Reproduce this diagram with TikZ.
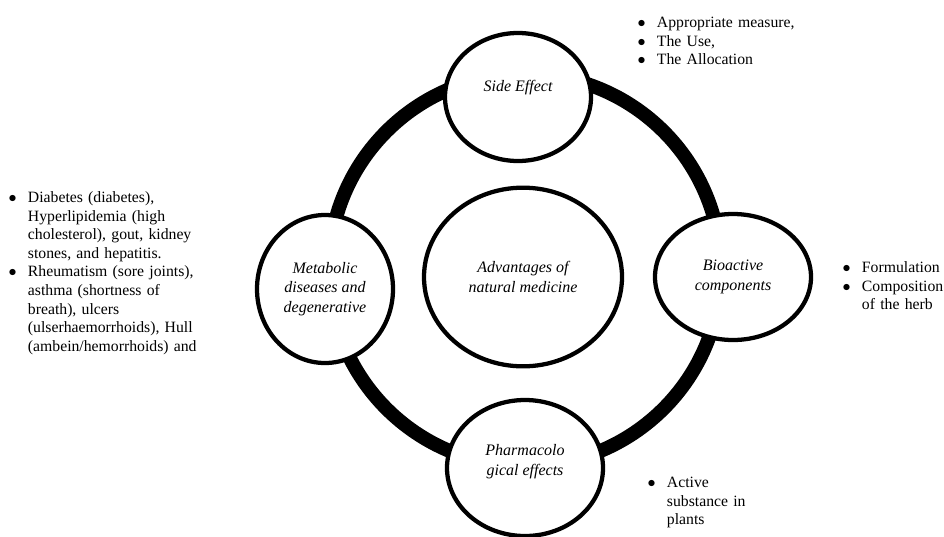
\documentclass[tikz,border=0pt]{standalone}
\usepackage{fontspec}
\setmainfont{Liberation Serif}
\usepackage{enumitem}
\usetikzlibrary{shapes.geometric,positioning}
\setlist[itemize]{label=$\bullet$,leftmargin=14pt,labelsep=8.5pt,nosep}

\begin{document}
\begin{tikzpicture}[x=0.75pt,y=-0.75pt,
    bubble/.style={ellipse, draw, line width=3.2pt, fill=white, inner sep=0pt,
                   align=center, font=\fontsize{12}{14.6}\selectfont\itshape},
    ring/.style={line width=10.5pt},
    notes/.style={anchor=north west, inner sep=0pt, text width=#1,
                  font=\fontsize{11.8}{13.9}\selectfont}]
    \useasboundingbox (0,0) rectangle (944,536);
    % the ring behind the five bubbles
    \coordinate (hub) at (525,270);
    \draw[ring] (hub) circle [radius=196];
    % bubbles
    \node[bubble, minimum width=109.5pt, minimum height=96pt, text depth=16pt] (side) at (518,97) {Side Effect};
    \node[bubble, minimum width=148.5pt, minimum height=134pt] (centre) at (523,277) {Advantages of\\natural medicine};
    \node[bubble, minimum width=102pt, minimum height=111pt] (metab) at (325,289) {Metabolic\\diseases and\\degenerative};
    \node[bubble, minimum width=117pt, minimum height=94.5pt] (bioact) at (733,277) {Bioactive\\components};
    \node[bubble, minimum width=117pt, minimum height=102pt, text depth=12pt] (pharma) at (525,468) {Pharmacolo\\gical effects};
    % bullet lists
    \node[notes=170pt] (metabnotes) at (9,184) {\begin{itemize}
        \item Diabetes (diabetes),\\Hyperlipidemia (high\\cholesterol), gout, kidney\\stones, and hepatitis.
        \item Rheumatism (sore joints),\\asthma (shortness of\\breath), ulcers\\(ulserhaemorrhoids), Hull\\(ambein/hemorrhoids) and
      \end{itemize}};
    \node[notes=140pt] (sidenotes) at (638,9) {\begin{itemize}
        \item Appropriate measure,
        \item The Use,
        \item The Allocation
      \end{itemize}};
    \node[notes=90pt] (bioactnotes) at (843,254) {\begin{itemize}
        \item Formulation
        \item Composition\\of the herb
      \end{itemize}};
    \node[notes=90pt] (pharmanotes) at (648,469) {\begin{itemize}
        \item Active\\substance in\\plants
      \end{itemize}};
\end{tikzpicture}
\end{document}
